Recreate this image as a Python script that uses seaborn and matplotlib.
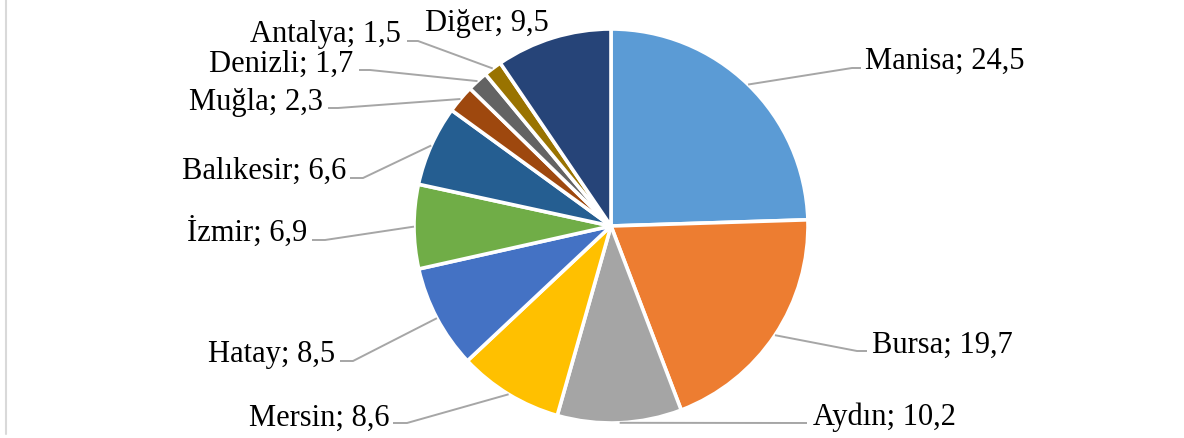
import numpy as np
import matplotlib
matplotlib.use("Agg")
import matplotlib.pyplot as plt
import seaborn as sns

sns.set_theme(style="white")
plt.rcParams['font.family'] = ['Liberation Serif', 'DejaVu Serif']

# data
iller = ["Manisa", "Bursa", "Aydın", "Mersin", "Hatay", "İzmir",
         "Balıkesir", "Muğla", "Denizli", "Antalya", "Diğer"]
paylar = [24.5, 19.7, 10.2, 8.6, 8.5, 6.9, 6.6, 2.3, 1.7, 1.5, 9.5]
renkler = ["#5B9BD5", "#ED7D31", "#A5A5A5", "#FFC000", "#4472C4", "#70AD47",
           "#255E91", "#9E480E", "#636363", "#997300", "#264478"]

# label layout (pixel coords, y measured from the top)
etiket_xy = [(865, 69), (872, 353), (813, 425), (389, 426), (335, 362),
             (307, 241), (346, 179), (323, 110), (353, 72), (401, 42), (425, 31)]
etiket_ha = ["left", "left", "left", "right", "right", "right",
             "right", "right", "right", "right", "left"]
kirilma = [(852, 69), (857, 352), None, (407, 424), (353, 362),
           (325, 241), (363, 179), (338, 109), (370, 71), (418, 42), None]
uc = [(861, 69), (867, 352), (807, 424), (393, 424), (340, 362),
      (312, 241), (350, 179), (328, 109), (359, 71), (407, 42), None]

W, H = 1184, 439
cx, cy, r = 611, 227, 197

fig = plt.figure(figsize=(W / 100, H / 100), dpi=100)
ax = fig.add_axes([0, 0, 1, 1])
wedges, _ = ax.pie(paylar, colors=renkler, startangle=90, counterclock=False,
                   center=(cx, H - cy), radius=r,
                   wedgeprops=dict(edgecolor="white", linewidth=2.6))
ax.set_xlim(0, W)
ax.set_ylim(0, H)
ax.set_aspect("equal")
ax.axis("off")

for i, w in enumerate(wedges):
    ang = np.deg2rad((w.theta1 + w.theta2) / 2)
    x0 = cx + r * np.cos(ang)
    y0 = (H - cy) + r * np.sin(ang)
    pts = [(x0, y0)]
    if kirilma[i] is not None:
        pts.append((kirilma[i][0], H - kirilma[i][1]))
    if uc[i] is not None:
        pts.append((uc[i][0], H - uc[i][1]))
        xs, ys = zip(*pts)
        ax.plot(xs, ys, color="#A6A6A6", lw=1.4, solid_capstyle="butt")
    tx, ty = etiket_xy[i]
    ax.text(tx, H - ty, f"{iller[i]}; {str(paylar[i]).replace('.', ',')}",
            ha=etiket_ha[i], va="baseline", fontsize=22, color="black")

fig.add_artist(plt.Line2D([6 / W, 6 / W], [4 / H, 1], color="#D9D9D9",
                          lw=1.5, transform=fig.transFigure))

fig.savefig("out.png", dpi=100)
